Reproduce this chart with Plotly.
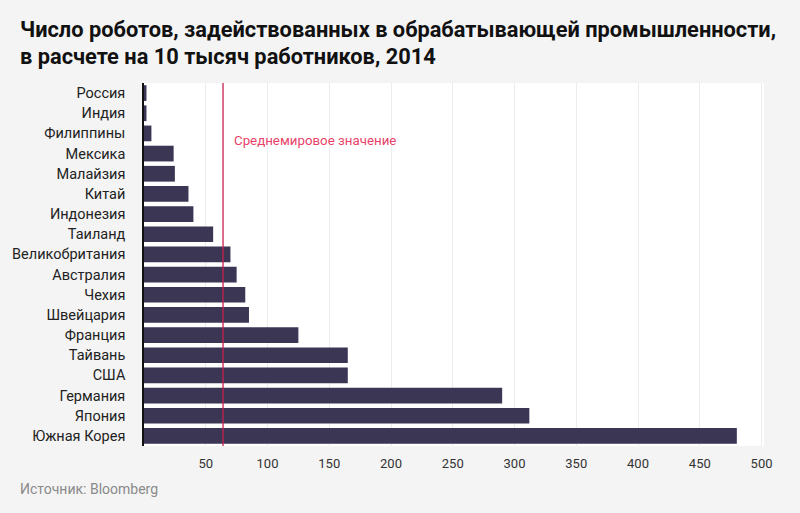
import plotly.graph_objects as go

countries = ["Россия", "Индия", "Филиппины", "Мексика", "Малайзия", "Китай", "Индонезия",
             "Таиланд", "Великобритания", "Австралия", "Чехия", "Швейцария", "Франция",
             "Тайвань", "США", "Германия", "Япония", "Южная Корея"]
robots = [2, 2, 6, 24, 25, 36, 40, 56, 70, 75, 82, 85, 125, 165, 165, 290, 312, 480]
world_average = 64
avg_label = "Среднемировое значение"
title_lines = ["Число роботов, задействованных в обрабатывающей промышленности,",
               "в расчете на 10 тысяч работников, 2014"]
source_text = "Источник: Bloomberg"
x_ticks = [50, 100, 150, 200, 250, 300, 350, 400, 450, 500]

W, H = 800, 513
ML, MR, MT, MB = 142, 36, 83, 67
PW, PH = W - ML - MR, H - MT - MB

def px_x(px):
    return (px - ML) / PW

def px_y(py):
    return 1 - (py - MT) / PH

fig = go.Figure()
fig.add_trace(go.Bar(
    y=countries, x=robots, orientation="h",
    marker=dict(color="#3b3654", line=dict(width=0)),
    hoverinfo="x+y",
))

fig.add_shape(type="line", xref="x", yref="paper", x0=world_average, x1=world_average,
              y0=0, y1=1, line=dict(color="#c8204f", width=1.3), layer="above")
fig.add_annotation(x=world_average, y=countries[2], xref="x", yref="y",
                   text=avg_label, showarrow=False, xanchor="left", xshift=9, yshift=-7,
                   font=dict(family="Roboto", size=13.3, color="#e8426a"))

for i, line in enumerate(title_lines):
    fig.add_annotation(xref="paper", yref="paper", x=px_x(16), y=px_y(30 + 26 * i),
                       xanchor="left", yanchor="middle", text="<b>" + line + "</b>",
                       showarrow=False,
                       font=dict(family="Roboto", size=21.8, color="#111111"))

fig.add_annotation(xref="paper", yref="paper", x=px_x(16), y=px_y(489),
                   xanchor="left", yanchor="middle", text=source_text, showarrow=False,
                   font=dict(family="Roboto", size=14, color="#8a8a8a"))

fig.update_layout(
    width=W, height=H,
    paper_bgcolor="#f4f4f4", plot_bgcolor="#ffffff",
    margin=dict(l=ML, r=MR, t=MT, b=MB),
    bargap=0.22,
    showlegend=False,
    xaxis=dict(range=[0, 502], tickvals=x_ticks, showgrid=True, gridcolor="#ececec",
               gridwidth=1, zeroline=False, showline=False, ticks="",
               ticklabelstandoff=8,
               tickfont=dict(family="Roboto", size=13, color="#333333")),
    yaxis=dict(autorange="reversed", showgrid=False, showline=True, linecolor="#111111",
               linewidth=1.5, ticks="", ticklabelstandoff=14,
               tickfont=dict(family="Roboto", size=14.5, color="#222222")),
    font=dict(family="Roboto"),
)

fig.write_html("out.html", config={"displayModeBar": False},
               post_script="document.body.style.margin='0';document.body.style.background='#f4f4f4';document.body.style.overflow='hidden';")
